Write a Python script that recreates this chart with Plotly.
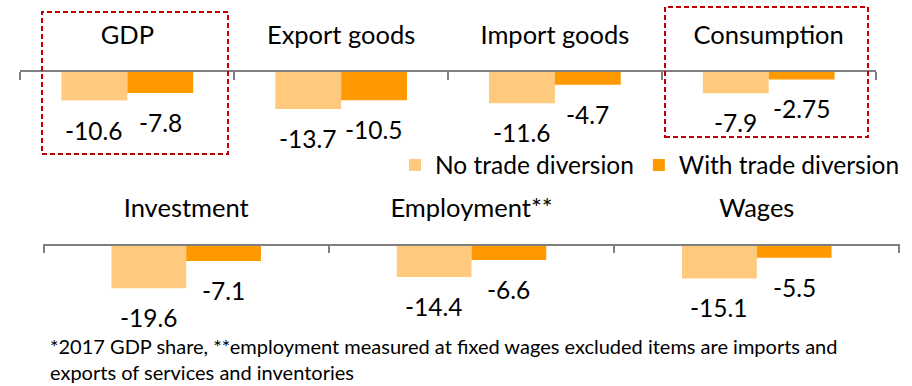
import plotly.graph_objects as go

# Percent change versus baseline, by indicator
top_categories = ["GDP", "Export goods", "Import goods", "Consumption"]
top_no_diversion = [-10.6, -13.7, -11.6, -7.9]
top_with_diversion = [-7.8, -10.5, -4.7, -2.75]

bottom_categories = ["Investment", "Employment**", "Wages"]
bottom_no_diversion = [-19.6, -14.4, -15.1]
bottom_with_diversion = [-7.1, -6.6, -5.5]

series_names = ["No trade diversion", "With trade diversion"]
footnote_lines = [
    "*2017 GDP share, **employment measured at fixed wages excluded items are imports and",
    "exports of services and inventories",
]

W, H = 912, 386
FONT = "Lato"
LIGHT = "#FFC97E"
DARK = "#FF9900"
RED = "#C00000"
AXIS_GRAY = "#7F7F7F"
EPS = 0.002


def px_x(p):
    return p / W


def px_y(p):
    return 1 - p / H


fig = go.Figure()

rows = [
    dict(cats=top_categories, a=top_no_diversion, b=top_with_diversion,
         xa="x", ya="y", bw=0.308, show=True),
    dict(cats=bottom_categories, a=bottom_no_diversion, b=bottom_with_diversion,
         xa="x2", ya="y2", bw=0.262, show=False),
]

annotations = []
for r in rows:
    pos = list(range(len(r["cats"])))
    for vals, color, name, off in ((r["a"], LIGHT, series_names[0], -r["bw"]),
                                   (r["b"], DARK, series_names[1], 0.0)):
        fig.add_trace(go.Bar(
            x=pos, y=vals, name=name, marker=dict(color=color, line=dict(width=0)),
            width=r["bw"], offset=off, xaxis=r["xa"], yaxis=r["ya"],
            showlegend=r["show"], hoverinfo="skip",
        ))
        for i, v in zip(pos, vals):
            annotations.append(dict(
                x=i + off + r["bw"] / 2, y=v, xref=r["xa"], yref=r["ya"],
                text=f"{v:g}", showarrow=False, yanchor="top", yshift=-13,
                font=dict(family=FONT, size=24.5, color="#000000"),
            ))


def category_axis(cats, standoff):
    n = len(cats)
    return dict(
        type="linear", side="top", showline=True, linecolor=AXIS_GRAY, linewidth=1.5,
        tickmode="array", tickvals=list(range(n)), ticktext=cats, ticks="",
        minor=dict(tickmode="array", tickvals=[k - 0.5 for k in range(n + 1)],
                   ticks="inside", ticklen=8, tickcolor=AXIS_GRAY, tickwidth=1.5,
                   showgrid=False),
        range=[-0.5 - EPS, n - 0.5 + EPS],
        showgrid=False, zeroline=False, fixedrange=True,
        tickfont=dict(family=FONT, size=25.5, color="#000000"),
        ticklabelstandoff=standoff,
    )


annotations.append(dict(
    x=px_x(48), y=px_y(332), xref="paper", yref="paper",
    xanchor="left", yanchor="top", align="left", showarrow=False,
    text="<br>".join(footnote_lines),
    font=dict(family=FONT, size=20, color="#000000"),
))

shapes = []
for x0, y0, x1, y1 in ((42, 12, 228, 154), (665, 7, 868, 137)):
    shapes.append(dict(
        type="rect", xref="paper", yref="paper",
        x0=px_x(x0), x1=px_x(x1), y0=px_y(y1), y1=px_y(y0),
        line=dict(color=RED, width=2, dash="5px,3px"), fillcolor="rgba(0,0,0,0)",
    ))

fig.update_layout(
    width=W, height=H, margin=dict(l=0, r=0, t=0, b=0),
    paper_bgcolor="white", plot_bgcolor="white",
    barmode="overlay",
    xaxis=dict(category_axis(top_categories, 16), domain=[px_x(20), px_x(876)], anchor="y"),
    yaxis=dict(domain=[px_y(150), px_y(72)], range=[-28.9, 0], visible=False, fixedrange=True),
    xaxis2=dict(category_axis(bottom_categories, 17), domain=[px_x(43), px_x(900)], anchor="y2"),
    yaxis2=dict(domain=[px_y(330), px_y(245.7)], range=[-38.85, 0], visible=False, fixedrange=True),
    legend=dict(
        orientation="h", x=px_x(395), y=px_y(165), xanchor="left", yanchor="middle",
        font=dict(family=FONT, size=24.5, color="#000000"), bgcolor="rgba(0,0,0,0)",
        itemclick=False, itemdoubleclick=False, tracegroupgap=0,
    ),
    annotations=annotations,
    shapes=shapes,
)

fig.write_html("out.html")
